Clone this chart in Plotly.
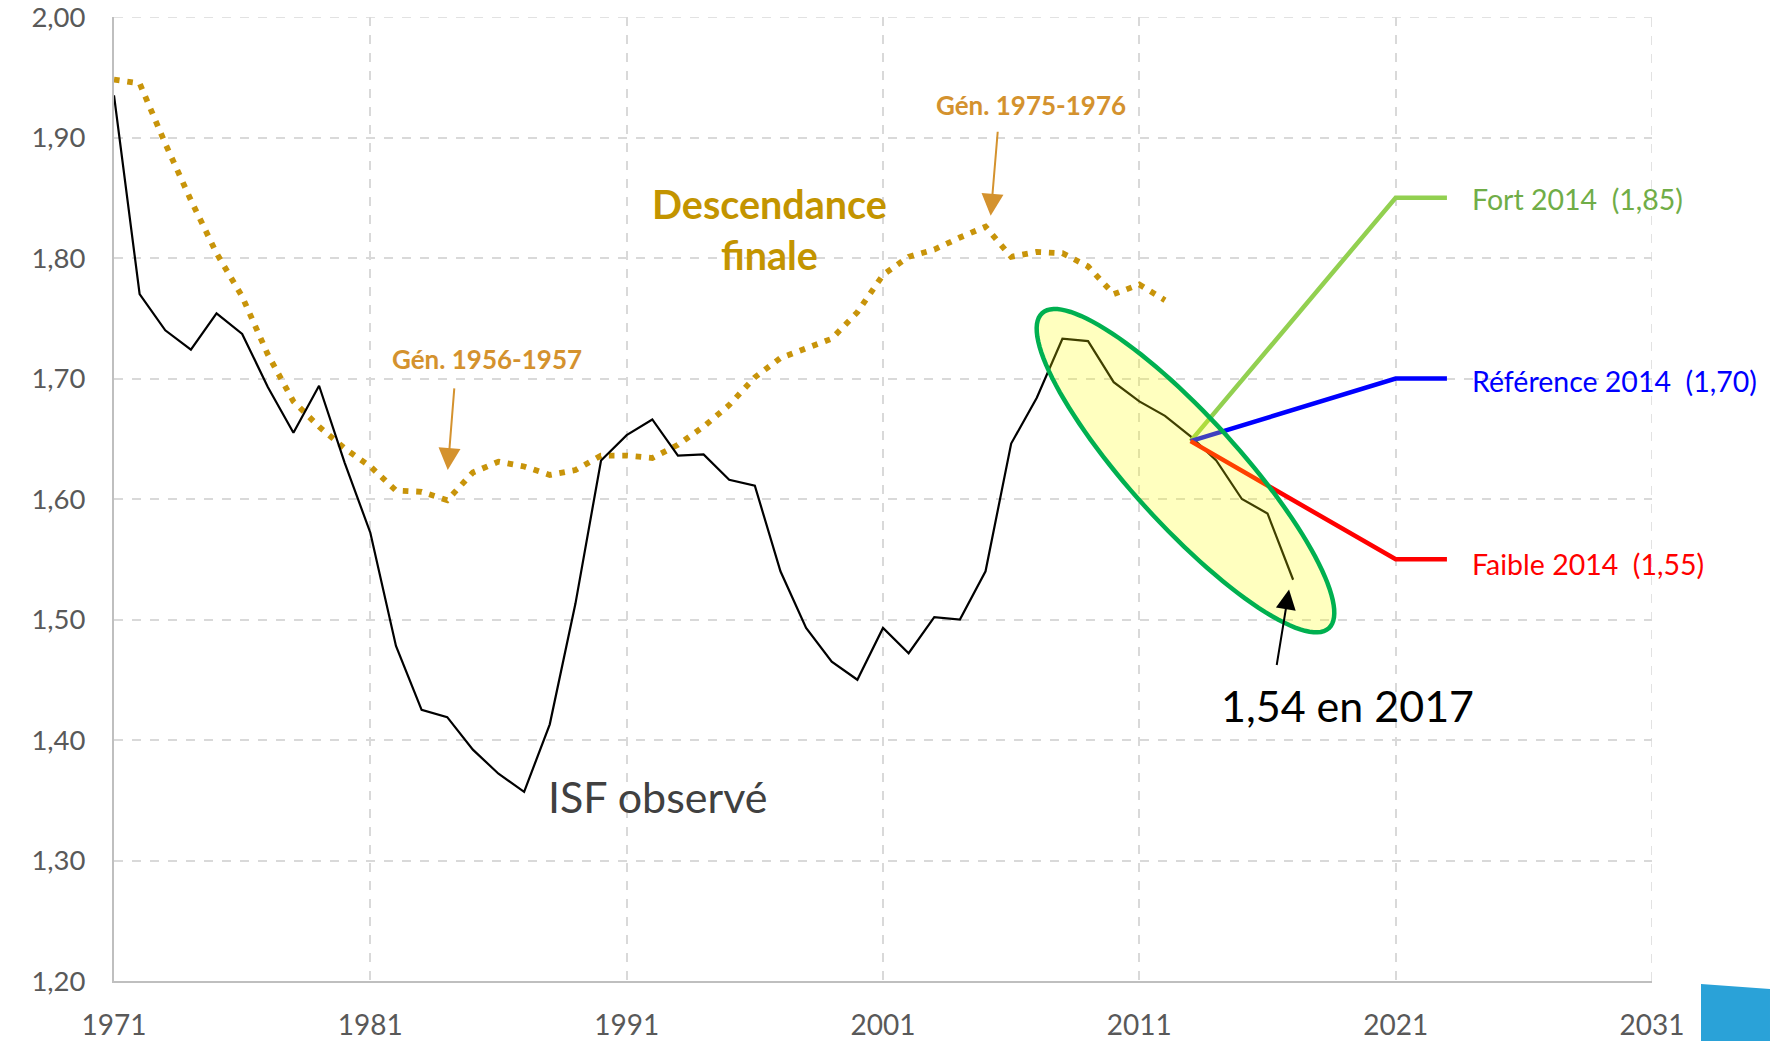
import math
import plotly.graph_objects as go

# ---------------- data ----------------
ISF_YEARS = list(range(1971, 2018))
ISF = [1.935, 1.770, 1.740, 1.724, 1.754, 1.737, 1.693, 1.655, 1.694, 1.630,
       1.572, 1.478, 1.425, 1.419, 1.392, 1.372, 1.357, 1.413, 1.513, 1.632,
       1.653, 1.666, 1.636, 1.637, 1.616, 1.611, 1.540, 1.493, 1.465, 1.450,
       1.493, 1.472, 1.502, 1.500, 1.540, 1.646, 1.684, 1.733, 1.731, 1.697,
       1.681, 1.669, 1.652, 1.632, 1.600, 1.588, 1.533]

DESC_YEARS = list(range(1971, 2013))
DESC = [1.948, 1.945, 1.895, 1.848, 1.804, 1.768, 1.720, 1.681, 1.660, 1.642,
        1.627, 1.607, 1.606, 1.599, 1.622, 1.631, 1.627, 1.620, 1.624, 1.636,
        1.636, 1.634, 1.645, 1.660, 1.678, 1.701, 1.717, 1.725, 1.733, 1.755,
        1.786, 1.801, 1.807, 1.817, 1.826, 1.801, 1.805, 1.804, 1.793, 1.770,
        1.778, 1.765]

PROJ_YEARS = [2013, 2021, 2023]
FORT = [1.648, 1.85, 1.85]
REFERENCE = [1.648, 1.70, 1.70]
FAIBLE = [1.648, 1.55, 1.55]

X_TICKS = [1971, 1981, 1991, 2001, 2011, 2021, 2031]
Y_TICKS = [1.20, 1.30, 1.40, 1.50, 1.60, 1.70, 1.80, 1.90, 2.00]
Y_TICK_TEXT = ["1,20", "1,30", "1,40", "1,50", "1,60", "1,70", "1,80", "1,90", "2,00"]

# ---------------- layout constants ----------------
W, H = 1770, 1041
ML, MR, MT, MB = 114, 118, 17, 60
X0, X1 = 1971, 2031
Y0, Y1 = 1.20, 2.00
PW, PH = W - ML - MR, H - MT - MB

FONT = "Lato"
GOLD = "#C8940A"
GEN = "#D4922E"
GRID = "#D9D9D9"

fig = go.Figure()

fig.add_trace(go.Scatter(
    x=DESC_YEARS, y=DESC, mode="lines",
    line=dict(color=GOLD, width=5.8, dash="5.6px,7.8px"),
    hoverinfo="skip", showlegend=False))

fig.add_trace(go.Scatter(
    x=ISF_YEARS, y=ISF, mode="lines",
    line=dict(color="#000000", width=2.2),
    hoverinfo="skip", showlegend=False))

for vals, col in [(FORT, "#92D050"), (REFERENCE, "#0000FF"), (FAIBLE, "#FF0000")]:
    fig.add_trace(go.Scatter(
        x=PROJ_YEARS, y=vals, mode="lines",
        line=dict(color=col, width=4.5),
        hoverinfo="skip", showlegend=False))

# edge gridlines (top and right) that plotly clips
fig.add_shape(type="line", xref="paper", yref="y", x0=0, x1=1, y0=Y1, y1=Y1,
              line=dict(color=GRID, width=1.5, dash="dash"), layer="below")
fig.add_shape(type="line", xref="x", yref="paper", x0=X1, x1=X1, y0=0, y1=1,
              line=dict(color=GRID, width=1.5, dash="dash"), layer="below")

# ---------------- ellipse highlight (rotated) ----------------
E_CX, E_CY = 2012.80, 1.6235      # centre in data units
E_A, E_B = 213, 54                 # semi-axes in pixels
E_ANG = math.radians(47.7)         # rotation (screen, y down)


def to_px(xv, yv):
    return ML + (xv - X0) / (X1 - X0) * PW, MT + (Y1 - yv) / (Y1 - Y0) * PH


cx, cy = to_px(E_CX, E_CY)
pts = []
for i in range(121):
    t = 2 * math.pi * i / 120
    ex, ey = E_A * math.cos(t), E_B * math.sin(t)
    px = cx + ex * math.cos(E_ANG) - ey * math.sin(E_ANG)
    py = cy + ex * math.sin(E_ANG) + ey * math.cos(E_ANG)
    pts.append(((px - ML) / PW, (MT + PH - py) / PH))
path = "M " + " L ".join(f"{a:.5f},{b:.5f}" for a, b in pts) + " Z"
fig.add_shape(type="path", path=path, xref="paper", yref="paper",
              fillcolor="rgba(255,255,0,0.25)",
              line=dict(color="#00B050", width=4.5), layer="above")

# blue corner decoration
bx0, bx1 = (1701 - ML) / PW, (W - ML) / PW
by_top_l, by_top_r = (MT + PH - 984) / PH, (MT + PH - 989) / PH
by_bot = (MT + PH - H) / PH
fig.add_shape(type="path",
              path=f"M {bx0:.5f},{by_top_l:.5f} L {bx1:.5f},{by_top_r:.5f} "
                   f"L {bx1:.5f},{by_bot:.5f} L {bx0:.5f},{by_bot:.5f} Z",
              xref="paper", yref="paper", fillcolor="#2AA2D8",
              line=dict(width=0), layer="above")

# ---------------- annotations ----------------
ann = []
ann.append(dict(x=1996.59, y=1.824, xref="x", yref="y", showarrow=False,
                text="<b>Descendance<br>finale</b>",
                font=dict(family=FONT, size=39.5, color="#C39400")))
ann.append(dict(x=1985.55, y=1.716, xref="x", yref="y", showarrow=False,
                text="<b>Gén. 1956-1957</b>",
                font=dict(family=FONT, size=26, color=GEN)))
ann.append(dict(x=2006.77, y=1.927, xref="x", yref="y", showarrow=False,
                text="<b>Gén. 1975-1976</b>",
                font=dict(family=FONT, size=26, color=GEN)))
ann.append(dict(x=1984.02, y=1.624, ax=1984.28, ay=1.693, xref="x", yref="y",
                axref="x", ayref="y", showarrow=True, text="",
                arrowhead=2, arrowsize=2.2, arrowwidth=2, arrowcolor=GEN))
ann.append(dict(x=2005.2, y=1.835, ax=2005.48, ay=1.906, xref="x", yref="y",
                axref="x", ayref="y", showarrow=True, text="",
                arrowhead=2, arrowsize=2.2, arrowwidth=2, arrowcolor=GEN))
ann.append(dict(x=2016.84, y=1.525, ax=2016.35, ay=1.461, xref="x", yref="y",
                axref="x", ayref="y", showarrow=True, text="",
                arrowhead=2, arrowsize=2.0, arrowwidth=2, arrowcolor="#000000"))
for txt, yv, col in [("Fort 2014  (1,85)", 1.849, "#70AD47"),
                     ("Référence 2014  (1,70)", 1.698, "#0000FF"),
                     ("Faible 2014  (1,55)", 1.546, "#FF0000")]:
    ann.append(dict(x=2023.90, y=yv, xref="x", yref="y", showarrow=False,
                    xanchor="left", text=txt,
                    font=dict(family=FONT, size=28.5, color=col)))
ann.append(dict(x=2019.14, y=1.429, xref="x", yref="y", showarrow=False,
                text="1,54 en 2017",
                font=dict(family=FONT, size=43, color="#000000")))
ann.append(dict(x=1992.2, y=1.3535, xref="x", yref="y", showarrow=False,
                text="ISF observé",
                font=dict(family=FONT, size=43, color="#404040")))

fig.update_layout(
    width=W, height=H,
    margin=dict(l=ML, r=MR, t=MT, b=MB, autoexpand=False),
    paper_bgcolor="white", plot_bgcolor="white",
    annotations=ann,
    font=dict(family=FONT),
)
fig.update_xaxes(range=[X0, X1], tickvals=X_TICKS, ticktext=[str(v) for v in X_TICKS],
                 showgrid=True, gridcolor=GRID, gridwidth=1.5, griddash="dash",
                 showline=True, linecolor="#BFBFBF", linewidth=2,
                 zeroline=False, ticks="", ticklabelstandoff=18, automargin=False,
                 ticklabeloverflow="allow",
                 tickfont=dict(family=FONT, size=28, color="#595959"))
fig.update_yaxes(range=[Y0, Y1], tickvals=Y_TICKS, ticktext=Y_TICK_TEXT,
                 showgrid=True, gridcolor=GRID, gridwidth=1.5, griddash="dash",
                 showline=True, linecolor="#BFBFBF", linewidth=2,
                 zeroline=False, ticks="", ticklabelstandoff=21, automargin=False,
                 ticklabeloverflow="allow",
                 tickfont=dict(family=FONT, size=27.5, color="#595959"))

fig.write_html("out.html",
               config={"displayModeBar": False},
               post_script="document.body.style.margin='0';"
                           "document.body.style.overflow='hidden';")
